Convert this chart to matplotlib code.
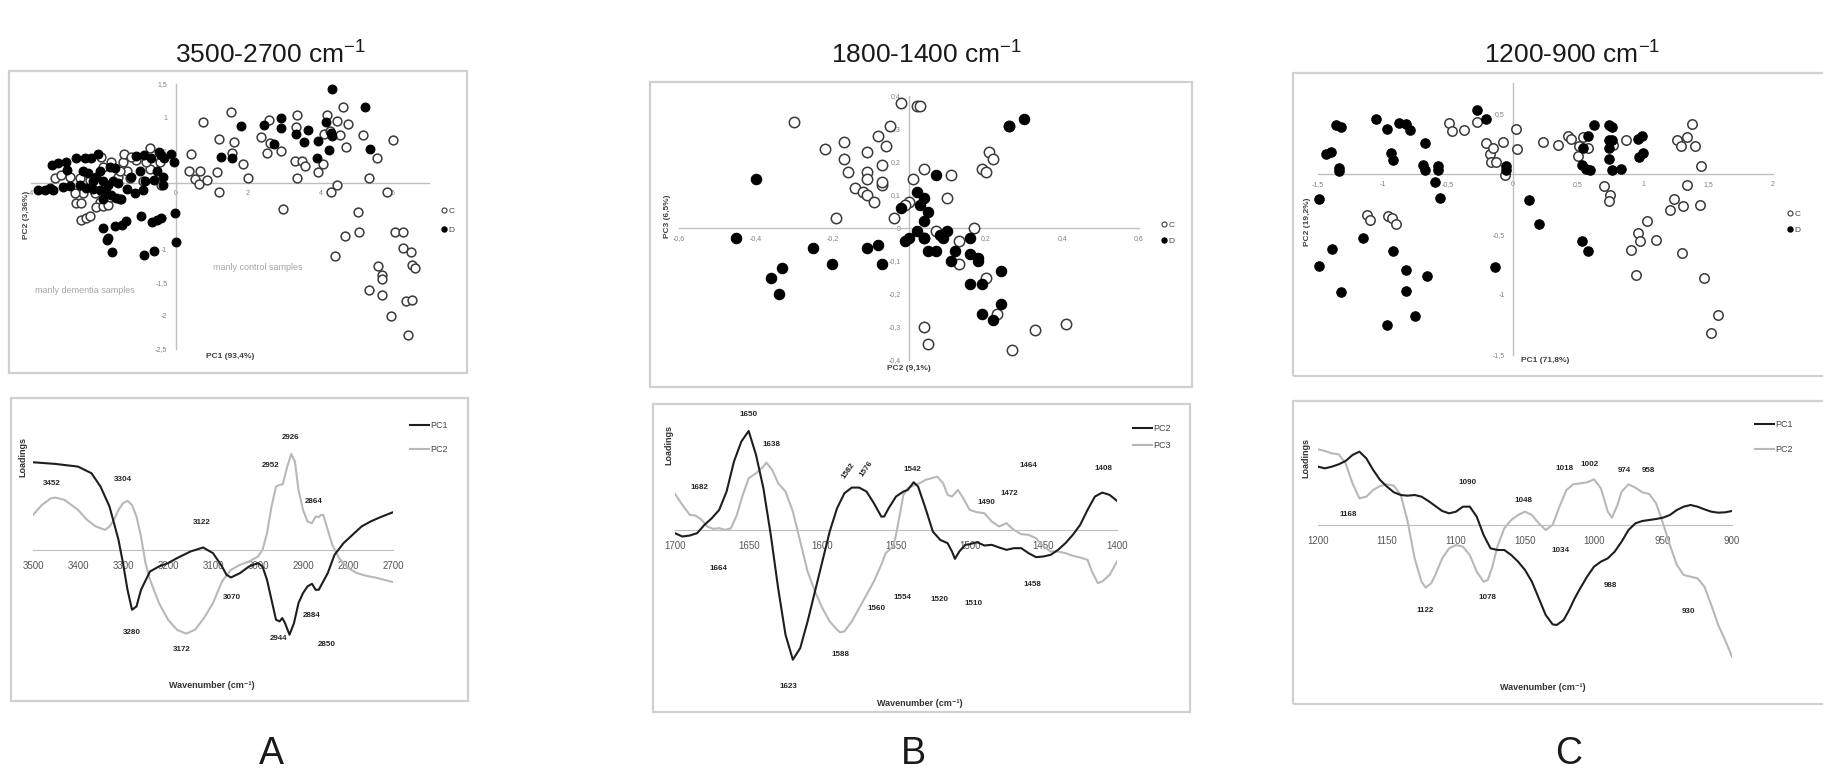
import numpy as np
import matplotlib.pyplot as plt
from matplotlib.patches import Rectangle
from matplotlib.lines import Line2D
from matplotlib.ticker import FuncFormatter

W, H = 1824, 775
plt.rcParams['font.family'] = ['Liberation Sans', 'DejaVu Sans']
plt.rcParams['mathtext.fontset'] = 'custom'
plt.rcParams['mathtext.rm'] = 'Liberation Sans'
plt.rcParams['mathtext.default'] = 'regular'

# ---------------- scores, panel A (PC1 vs PC2) ----------------
a_c_x = [0.41, 0.37, 0.53, 0.66, 0.65, 0.87, 1.14, 1.20, 1.20, 0.74, 1.52, 1.60, 1.56, 1.87, 2.00,
         2.37, 2.58, 2.60, 2.53, 2.90, 2.96, 3.34, 3.32, 3.30, 3.36, 3.49, 3.57, 3.94, 4.06, 4.10,
         4.18, 4.26, 4.29, 4.47, 4.47, 4.55, 4.61, 4.70, 4.75, 5.17, 5.34, 5.56, 5.84, 6.01, 5.04,
         5.06, 4.69, 4.41, 5.58, 5.71, 5.69, 5.35, 5.71, 5.96, 6.07, 6.27, 6.27, 6.49, 6.52, 6.61,
         6.36, 6.53, 6.41,
         -3.35, -3.16, -2.93, -2.65, -2.38, -2.01, -1.78, -1.46, -1.44, -1.36, -1.09, -0.72, -0.70,
         -0.44, -2.06, -2.10, -2.19, -2.01, -1.87, -2.75, -2.61, -2.61, -2.49, -2.36, -2.24, -1.82,
         -2.56, -2.79, -1.59, -0.90, -1.27, -0.40, -1.23, -0.81, -1.55]
a_c_y = [0.44, 0.18, 0.07, 0.19, -0.01, 0.05, 0.17, 0.67, -0.13, 0.93, 1.08, 0.62, 0.46, 0.29, 0.08,
         0.70, 0.96, 0.61, 0.46, 0.49, -0.39, 1.03, 0.85, 0.34, 0.08, 0.34, 0.26, 0.17, 0.29, 0.75,
         1.03, 0.79, -0.13, 0.94, -0.02, 0.73, 1.16, 0.55, 0.89, 0.73, 0.08, 0.38, -0.13, 0.65, -0.43,
         -0.73, -0.79, -1.10, -1.25, -1.38, -1.44, -1.61, -1.69, -2.00, -0.73, -0.73, -0.98, -1.03, -1.23, -1.27,
         -1.78, -1.76, -2.29,
         0.08, 0.13, 0.10, 0.08, 0.05, 0.25, 0.33, 0.33, 0.44, 0.18, 0.35, 0.22, 0.53,
         0.33, 0.40, -0.28, -0.35, -0.34, -0.33, -0.30, -0.29, -0.55, -0.52, -0.49, -0.15, -0.20,
         -0.15, -0.15, 0.10, 0.04, 0.08, -0.03, 0.40, 0.33, 0.18]
a_d_x = [-0.06, -0.03, 0.02, 1.24, 1.56, 1.81, 2.44, 2.71, 2.92, 2.90, 3.32, 3.54, 3.66, 3.94, 3.91,
         4.14, 4.28, 4.33, 4.23, 4.32, 5.22, 5.36,
         -0.46, -0.33, -0.53, -0.60, -0.35, -0.35, -0.67, -0.88, -1.11, -1.00, -1.23, -0.86, -0.90,
         -1.13, -1.36, -1.50, -1.59, -1.73, -1.69, -1.82, -2.10, -2.15, -2.33, -2.52, -2.75, -3.02,
         -3.25, -3.41, -3.00, -2.56, -2.42, -2.19, -3.39, -3.62, -3.81, -3.48, -3.12, -2.93, -2.65,
         -2.47, -2.29, -2.10, -1.92, -1.78, -1.64, -1.55, -2.01, -1.87, -2.01, -2.29, -0.40, -0.12,
         -0.42, -0.53, -0.66, -0.97, -1.38, -1.48, -1.69, -2.01, -1.86, -1.90, -1.76, -0.88, -0.60]
a_d_y = [0.32, -0.45, -0.88, 0.40, 0.39, 0.86, 0.88, 0.59, 0.99, 0.83, 0.75, 0.62, 0.81, 0.64, 0.38,
         0.92, 0.76, 0.72, 0.51, 1.43, 1.15, 0.52,
         0.48, 0.38, 0.18, 0.05, 0.10, -0.03, 0.38, 0.43, 0.41, 0.19, 0.09, 0.03, -0.10,
         -0.14, -0.08, -0.23, 0.00, 0.03, 0.23, 0.24, 0.18, 0.45, 0.38, 0.39, 0.38, 0.33,
         0.31, 0.28, 0.20, 0.18, 0.15, 0.10, -0.10, -0.10, -0.10, -0.07, -0.05, -0.04, -0.03,
         -0.07, -0.08, -0.10, -0.13, -0.18, -0.22, -0.24, -0.23, -0.03, 0.03, 0.03, 0.43, 0.44,
         -0.53, -0.56, -0.59, -0.49, -0.57, -0.63, -0.64, -0.68, -0.83, -0.86, -1.04, -1.08, -1.02]

# ---------------- scores, panel B (PC2 vs PC3) ----------------
b_c_x = [-0.30, -0.17, -0.17, -0.22, -0.16, -0.14, -0.12, -0.11, -0.11, -0.11, -0.11, -0.09, -0.08,
         -0.07, -0.07, -0.07, -0.06, -0.05, -0.02, 0.02, 0.03, 0.04, 0.01, 0.00, -0.04, -0.19, 0.10,
         0.11, 0.19, 0.20, 0.21, 0.22, 0.26, 0.17, 0.13, 0.13, 0.07, 0.04, 0.20, 0.23, 0.04, 0.05,
         0.27, 0.33, 0.41, -0.01]
b_c_y = [0.32, 0.26, 0.21, 0.24, 0.17, 0.12, 0.11, 0.10, 0.23, 0.17, 0.15, 0.08, 0.28, 0.19, 0.13,
         0.14, 0.25, 0.31, 0.38, 0.37, 0.37, 0.18, 0.15, 0.08, 0.03, 0.03, 0.09, 0.16, 0.18, 0.17,
         0.23, 0.21, 0.31, 0.00, -0.04, -0.11, -0.01, -0.03, -0.15, -0.26, -0.30, -0.35, -0.37,
         -0.31, -0.29, 0.07]
b_d_x = [-0.40, -0.45, -0.25, -0.20, -0.36, -0.33, -0.34, -0.11, -0.08, -0.07, -0.02, 0.02, 0.04,
         0.03, 0.05, 0.04, 0.07, 0.00, 0.02, 0.04, 0.05, 0.07, 0.08, 0.09, 0.10, 0.11, 0.12, 0.16,
         0.16, 0.18, 0.18, 0.16, 0.19, 0.24, 0.24, 0.22, 0.19, 0.26, 0.30, -0.01]
b_d_y = [0.15, -0.03, -0.06, -0.11, -0.15, -0.12, -0.20, -0.06, -0.05, -0.11, 0.06, 0.11, 0.09,
         0.07, 0.05, 0.02, 0.16, -0.03, -0.01, -0.03, -0.07, -0.07, -0.02, -0.03, -0.01, -0.10,
         -0.07, -0.03, -0.08, -0.09, -0.10, -0.17, -0.17, -0.13, -0.23, -0.28, -0.26, 0.31, 0.33, -0.04]

# ---------------- scores, panel C (PC1 vs PC2) ----------------
c_c_x = [-0.49, -0.47, -0.38, -0.28, -0.21, -0.18, -0.15, -0.17, -0.13, -0.08, 0.02, 0.03, 0.23,
         0.35, 0.42, 0.45, 0.51, 0.50, 0.54, 0.58, 0.87, 0.77, 1.26, 1.29, 1.34, 1.38, 1.40, 1.45,
         1.34, 1.24, 1.31, 1.44, 1.21, 1.03, 0.96, 0.98, 1.10, 0.91, 1.30, 0.95, 1.47, 1.58, 1.52,
         0.70, 0.75, 0.74, -1.12, -1.10, -0.96, -0.93, -0.90, -0.06]
c_c_y = [0.42, 0.35, 0.36, 0.43, 0.25, 0.16, 0.21, 0.10, 0.10, 0.26, 0.37, 0.20, 0.26, 0.24, 0.31,
         0.29, 0.23, 0.15, 0.30, 0.21, 0.28, 0.24, 0.28, 0.23, 0.30, 0.41, 0.23, 0.06, -0.09, -0.21,
         -0.27, -0.26, -0.30, -0.39, -0.49, -0.56, -0.55, -0.63, -0.66, -0.84, -0.86, -1.17, -1.32,
         -0.10, -0.18, -0.23, -0.34, -0.38, -0.35, -0.37, -0.42, -0.01]
c_d_x = [-1.44, -1.40, -1.36, -1.32, -1.34, -1.34, -1.05, -0.97, -0.88, -0.82, -0.79, -0.94, -0.92,
         -0.68, -0.69, -0.68, -0.58, -0.58, -0.60, -0.56, -0.28, -0.21, -0.05, -0.05, -1.49, -1.39,
         -1.49, -1.32, -1.15, -0.92, -0.82, -0.82, -0.66, -0.75, -0.97, -0.14, 0.12, 0.20, 0.53, 0.58,
         0.58, 0.62, 0.74, 0.76, 0.74, 0.74, 0.76, 0.74, 0.53, 0.56, 0.59, 0.76, 0.83, 0.96, 0.99,
         0.97, 1.00, 0.54]
c_d_y = [0.16, 0.18, 0.40, 0.39, 0.05, 0.02, 0.45, 0.37, 0.42, 0.41, 0.36, 0.17, 0.11, 0.25, 0.07,
         0.03, 0.06, 0.03, -0.07, -0.20, 0.53, 0.45, 0.06, 0.03, -0.21, -0.62, -0.76, -0.98, -0.53,
         -0.64, -0.80, -0.97, -0.85, -1.18, -1.25, -0.77, -0.22, -0.42, -0.56, -0.64, 0.31, 0.40,
         0.40, 0.39, 0.28, 0.21, 0.28, 0.12, 0.07, 0.04, 0.03, 0.03, 0.04, 0.29, 0.31, 0.14, 0.17, 0.21]

# ---------------- loadings, panel A ----------------
a_pc1_wn = [3500, 3450, 3400, 3370, 3350, 3330, 3310, 3300, 3290, 3280, 3270, 3260, 3240, 3220, 3200,
            3180, 3150, 3122, 3100, 3080, 3070, 3060, 3040, 3020, 3000, 2990, 2980, 2970, 2960, 2952,
            2946, 2940, 2930, 2920, 2910, 2900, 2890, 2880, 2872, 2865, 2855, 2845, 2830, 2810, 2790,
            2770, 2750, 2730, 2700]
a_pc1 = [0.263, 0.258, 0.250, 0.230, 0.190, 0.130, 0.030, -0.040, -0.120, -0.180, -0.170, -0.120,
         -0.065, -0.050, -0.040, -0.025, -0.005, 0.007, -0.010, -0.050, -0.075, -0.083, -0.070, -0.050,
         -0.040, -0.050, -0.090, -0.150, -0.210, -0.215, -0.205, -0.220, -0.255, -0.220, -0.160, -0.130,
         -0.110, -0.102, -0.120, -0.120, -0.095, -0.070, -0.015, 0.020, 0.045, 0.070, 0.085, 0.097, 0.113]
a_pc2_wn = [3500, 3480, 3460, 3450, 3430, 3400, 3380, 3360, 3340, 3330, 3320, 3310, 3300, 3290, 3280,
            3270, 3260, 3250, 3240, 3220, 3200, 3180, 3160, 3140, 3120, 3100, 3080, 3060, 3040, 3020,
            3000, 2990, 2980, 2970, 2960, 2952, 2945, 2935, 2926, 2918, 2910, 2900, 2890, 2880, 2872,
            2865, 2860, 2855, 2845, 2835, 2820, 2800, 2780, 2760, 2740, 2700]
a_pc2 = [0.105, 0.135, 0.155, 0.157, 0.150, 0.120, 0.090, 0.070, 0.060, 0.070, 0.090, 0.120, 0.140,
         0.147, 0.135, 0.100, 0.040, -0.040, -0.090, -0.160, -0.210, -0.240, -0.252, -0.240, -0.205,
         -0.160, -0.095, -0.060, -0.045, -0.035, -0.020, 0.000, 0.050, 0.130, 0.190, 0.195, 0.197,
         0.250, 0.288, 0.265, 0.180, 0.120, 0.085, 0.080, 0.100, 0.098, 0.105, 0.105, 0.060, 0.015,
         -0.025, -0.055, -0.070, -0.078, -0.083, -0.097]
a_peaks = ['3452', '3304', '3122', '2952', '2926', '2864', '3280', '3172', '3070', '2944', '2884', '2850']
a_peak_x = [3459, 3300, 3126, 2972, 2928, 2876, 3281, 3170, 3058, 2955, 2881, 2848]
a_peak_y = [0.200, 0.212, 0.083, 0.252, 0.338, 0.145, -0.247, -0.300, -0.142, -0.265, -0.197, -0.285]

# ---------------- loadings, panel B ----------------
b_pc2_wn = [1700, 1695, 1690, 1685, 1680, 1675, 1670, 1665, 1660, 1655, 1650, 1645, 1640, 1635, 1630,
            1625, 1620, 1615, 1610, 1605, 1600, 1595, 1590, 1585, 1580, 1575, 1570, 1565, 1560, 1558,
            1555, 1550, 1545, 1542, 1538, 1535, 1530, 1525, 1520, 1515, 1512, 1510, 1507, 1503, 1500,
            1495, 1490, 1485, 1480, 1475, 1470, 1465, 1460, 1455, 1450, 1445, 1440, 1435, 1430, 1425,
            1420, 1415, 1410, 1405, 1400]
b_pc2 = [-0.010, -0.020, -0.017, -0.010, 0.015, 0.035, 0.060, 0.115, 0.205, 0.265, 0.297, 0.225,
         0.125, -0.015, -0.175, -0.315, -0.390, -0.355, -0.275, -0.185, -0.095, -0.005, 0.065, 0.110,
         0.127, 0.127, 0.115, 0.080, 0.040, 0.040, 0.065, 0.100, 0.115, 0.120, 0.143, 0.130, 0.065,
         -0.005, -0.030, -0.040, -0.065, -0.087, -0.065, -0.045, -0.043, -0.037, -0.047, -0.045,
         -0.053, -0.060, -0.055, -0.055, -0.070, -0.082, -0.080, -0.075, -0.060, -0.040, -0.015,
         0.015, 0.060, 0.100, 0.112, 0.105, 0.087]
b_pc3_wn = [1700, 1695, 1690, 1686, 1682, 1678, 1674, 1670, 1666, 1662, 1658, 1654, 1650, 1645, 1640,
            1638, 1634, 1630, 1625, 1620, 1615, 1610, 1605, 1600, 1595, 1590, 1588, 1585, 1580, 1575,
            1570, 1565, 1560, 1557, 1552, 1550, 1547, 1545, 1542, 1538, 1534, 1530, 1526, 1522, 1518,
            1515, 1512, 1508, 1505, 1500, 1495, 1490, 1485, 1480, 1475, 1470, 1465, 1460, 1455, 1450,
            1445, 1440, 1435, 1430, 1425, 1420, 1417, 1413, 1410, 1405, 1400]
b_pc3 = [0.108, 0.075, 0.045, 0.043, 0.030, 0.010, 0.003, 0.005, 0.000, 0.005, 0.045, 0.105, 0.155,
         0.170, 0.190, 0.202, 0.180, 0.140, 0.115, 0.055, -0.035, -0.125, -0.185, -0.235, -0.275,
         -0.300, -0.308, -0.305, -0.275, -0.235, -0.195, -0.155, -0.105, -0.070, -0.050, -0.015,
         0.055, 0.105, 0.125, 0.133, 0.140, 0.150, 0.155, 0.160, 0.140, 0.105, 0.100, 0.120, 0.100,
         0.060, 0.053, 0.050, 0.025, 0.010, 0.020, 0.000, -0.013, -0.015, -0.025, -0.050, -0.065,
         -0.065, -0.070, -0.078, -0.083, -0.090, -0.125, -0.160, -0.155, -0.135, -0.095]
b_peaks = ['1650', '1638', '1682', '1664', '1542', '1464', '1408', '1490', '1472',
           '1560', '1554', '1520', '1510', '1458', '1588', '1623']
b_peak_x = [1650.2, 1634.8, 1683.7, 1670.8, 1538.8, 1460.5, 1409.1, 1488.3, 1472.9,
            1563.3, 1545.8, 1520.7, 1497.4, 1457.1, 1587.9, 1622.8]
b_peak_y = [0.347, 0.255, 0.128, -0.115, 0.180, 0.193, 0.183, 0.083, 0.108,
            -0.237, -0.203, -0.210, -0.221, -0.165, -0.375, -0.470]
b_tilted = ['1582', '1576']
b_tilted_x = [1582.3, 1570.3]
b_tilted_y = [0.177, 0.183]

# ---------------- loadings, panel C ----------------
c_wn = [1200, 1195, 1190, 1185, 1180, 1175, 1170, 1165, 1160, 1155, 1150, 1145, 1140, 1135, 1130,
        1125, 1120, 1115, 1110, 1105, 1100, 1095, 1090, 1085, 1080, 1075, 1070, 1065, 1060, 1055,
        1050, 1045, 1040, 1035, 1030, 1027, 1022, 1018, 1014, 1010, 1005, 1000, 995, 990, 985, 980,
        975, 970, 965, 960, 955, 950, 945, 940, 935, 930, 925, 920, 915, 910, 905, 900]
c_pc1 = [0.175, 0.170, 0.175, 0.182, 0.192, 0.210, 0.220, 0.200, 0.165, 0.135, 0.115, 0.098, 0.090,
         0.088, 0.090, 0.085, 0.072, 0.057, 0.042, 0.035, 0.040, 0.055, 0.055, 0.025, -0.030, -0.070,
         -0.075, -0.075, -0.090, -0.110, -0.135, -0.170, -0.220, -0.270, -0.298, -0.300, -0.285,
         -0.255, -0.220, -0.190, -0.155, -0.125, -0.110, -0.100, -0.080, -0.050, -0.015, 0.005,
         0.012, 0.015, 0.018, 0.022, 0.030, 0.045, 0.055, 0.060, 0.055, 0.047, 0.040, 0.037, 0.038,
         0.042]
c_pc2_wn = [1200, 1195, 1190, 1185, 1180, 1175, 1170, 1165, 1160, 1155, 1150, 1145, 1140, 1135, 1130,
            1125, 1122, 1118, 1115, 1110, 1105, 1100, 1095, 1090, 1085, 1080, 1077, 1074, 1070, 1065,
            1060, 1055, 1050, 1045, 1040, 1035, 1030, 1025, 1020, 1015, 1010, 1005, 1000, 995, 990,
            987, 983, 980, 975, 970, 965, 960, 955, 950, 945, 940, 935, 930, 925, 920, 915, 910, 905,
            900]
c_pc2 = [0.227, 0.222, 0.215, 0.212, 0.185, 0.125, 0.080, 0.085, 0.105, 0.117, 0.122, 0.118, 0.090,
         0.010, -0.100, -0.170, -0.188, -0.175, -0.150, -0.100, -0.070, -0.060, -0.065, -0.090,
         -0.140, -0.170, -0.165, -0.130, -0.065, -0.010, 0.015, 0.030, 0.040, 0.030, 0.005, -0.015,
         0.000, 0.055, 0.105, 0.122, 0.125, 0.128, 0.137, 0.110, 0.040, 0.022, 0.060, 0.100, 0.122,
         0.112, 0.098, 0.093, 0.065, 0.005, -0.060, -0.120, -0.150, -0.155, -0.160, -0.185, -0.240,
         -0.300, -0.345, -0.395]
c_peaks = ['1168', '1090', '1048', '1018', '1002', '974', '958', '1034', '988', '1122', '1078', '930']
c_peak_x = [1178.3, 1091.8, 1051.0, 1021.7, 1003.1, 977.8, 960.9, 1024.2, 988.2, 1122.2, 1077.0, 931.6]
c_peak_y = [0.030, 0.127, 0.075, 0.170, 0.182, 0.165, 0.162, -0.077, -0.182, -0.258, -0.218, -0.260]

titles = ['3500-2700 cm$^{-1}$', '1800-1400 cm$^{-1}$', '1200-900 cm$^{-1}$']
letters = ['A', 'B', 'C']

fig = plt.figure(figsize=(W / 100, H / 100), dpi=100)
AXIS_GREY = '#bfbfbf'


def px_axes(l, t, r, b):
    ax = fig.add_axes([l / W, 1 - b / H, (r - l) / W, (b - t) / H])
    ax.patch.set_alpha(0)
    return ax


def frame(l, t, r, b):
    fig.patches.append(Rectangle((l / W, 1 - b / H), (r - l) / W, (b - t) / H,
                                 transform=fig.transFigure, fill=False,
                                 ec='#d0d0d0', lw=1.6, zorder=0))


def ftext(x, y, s, **kw):
    fig.text(x / W, 1 - y / H, s, ha='center', va='center', **kw)


comma = FuncFormatter(lambda v, p: ('%g' % v).replace('.', ','))


def scores_panel(box, xlim, ylim, xt, yt, cx, cy, dx, dy, size, leg_xy, leg_sp):
    ax = px_axes(*box)
    ax.set_xlim(xlim)
    ax.set_ylim(ylim)
    for s in ['top', 'right']:
        ax.spines[s].set_visible(False)
    for s in ['left', 'bottom']:
        ax.spines[s].set_position(('data', 0))
        ax.spines[s].set_color(AXIS_GREY)
        ax.spines[s].set_linewidth(1.0)
    ax.set_xticks(xt)
    ax.set_yticks(yt)
    ax.xaxis.set_major_formatter(comma)
    ax.yaxis.set_major_formatter(comma)
    ax.tick_params(length=0, labelsize=5, labelcolor='#808080')
    ax.tick_params(axis='x', pad=5)
    ax.tick_params(axis='y', pad=6)
    ax.scatter(cx, cy, s=size, facecolor='white', edgecolor='#3a3a3a', linewidth=1.1,
               zorder=3, clip_on=False)
    ax.scatter(dx, dy, s=size, facecolor='black', edgecolor='black', linewidth=0.8,
               zorder=3, clip_on=False)
    handles = [Line2D([], [], ls='none', marker='o', ms=3.6, mfc='white', mec='#3a3a3a', mew=0.8),
               Line2D([], [], ls='none', marker='o', ms=3.6, mfc='black', mec='black')]
    ax.legend(handles, ['C', 'D'], loc='upper left', bbox_to_anchor=(leg_xy[0] / W, 1 - leg_xy[1] / H),
              bbox_transform=fig.transFigure, frameon=False, fontsize=6, handlelength=0.6,
              handletextpad=0.2, labelspacing=leg_sp, borderpad=0, borderaxespad=0,
              labelcolor='#444444')
    return ax


def loadings_panel(box, xlim, ylim, step, wn1, v1, wn2, v2, names, peaks, px, py, leg_xy, leg_sp):
    ax = px_axes(*box)
    ax.set_xlim(xlim)
    ax.set_ylim(ylim)
    for s in ['top', 'right', 'left']:
        ax.spines[s].set_visible(False)
    ax.spines['bottom'].set_position(('data', 0))
    ax.spines['bottom'].set_color(AXIS_GREY)
    ax.set_yticks([])
    ax.set_xticks(np.arange(xlim[1], xlim[0] + 1, step))
    ax.tick_params(axis='x', length=0, pad=8, labelsize=7, labelcolor='#555555')
    ax.plot(wn1, v1, color='#1e1e1e', lw=1.5, label=names[0], zorder=3)
    ax.plot(wn2, v2, color='#b8b8b8', lw=1.5, label=names[1], zorder=2)
    for t, x, y in zip(peaks, px, py):
        ax.text(x, y, t, ha='center', va='center', fontsize=5.8, fontweight='bold',
                color='#262626', clip_on=False)
    ax.legend(loc='upper left', bbox_to_anchor=(leg_xy[0] / W, 1 - leg_xy[1] / H),
              bbox_transform=fig.transFigure, frameon=False, fontsize=6.5, handlelength=2.1,
              handletextpad=0.1, labelspacing=leg_sp, borderpad=0, borderaxespad=0,
              labelcolor='#444444')
    return ax


# ---- frames ----
frame(9, 71, 467, 373)
frame(650, 82, 1192, 387)
frame(1293, 73, 1830, 376)
frame(11, 398, 468, 701)
frame(653, 404, 1190, 712)
frame(1293, 401, 1830, 704)

# ---- scores ----
scores_panel((31, 84, 429, 349), (-4, 7), (-2.5, 1.5), [-4, -2, 0, 2, 4, 6],
             [-2.5, -2, -1.5, -1, -0.5, 0.5, 1, 1.5], a_c_x, a_c_y, a_d_x, a_d_y, 40,
             (442, 207), 1.3)
ftext(230, 356, 'PC1 (93,4%)', fontsize=6, fontweight='bold', color='#404040')
ftext(27, 215, 'PC2 (3,36%)', fontsize=6, fontweight='bold', color='#404040', rotation=90)
ftext(85, 290, 'manly dementia samples', fontsize=6.5, color='#a6a6a6')
ftext(258, 267, 'manly control samples', fontsize=6.5, color='#a6a6a6')

scores_panel((679, 96, 1139, 360), (-0.6, 0.6), (-0.4, 0.4), [-0.6, -0.4, -0.2, 0.2, 0.4, 0.6],
             [-0.4, -0.3, -0.2, -0.1, 0, 0.1, 0.2, 0.3, 0.4], b_c_x, b_c_y, b_d_x, b_d_y, 56,
             (1162, 221), 1.05)
ftext(909, 368, 'PC2 (9,1%)', fontsize=6, fontweight='bold', color='#404040')
ftext(668, 216, 'PC3 (6,5%)', fontsize=6, fontweight='bold', color='#404040', rotation=90)

scores_panel((1318, 83, 1773, 355), (-1.5, 2), (-1.5, 0.75), [-1.5, -1, -0.5, 0, 0.5, 1, 1.5, 2],
             [-1.5, -1, -0.5, 0.5], c_c_x, c_c_y, c_d_x, c_d_y, 46,
             (1788, 210), 0.95)
ftext(1545, 361, 'PC1 (71,8%)', fontsize=6, fontweight='bold', color='#404040')
ftext(1308, 222, 'PC2 (19,2%)', fontsize=6, fontweight='bold', color='#404040', rotation=90)

# ---- loadings ----
loadings_panel((33, 410, 393, 673), (3500, 2700), (-0.37, 0.42), 100, a_pc1_wn, a_pc1, a_pc2_wn,
               a_pc2, ['PC1', 'PC2'], a_peaks, a_peak_x, a_peak_y, (410, 421), 1.7)
ftext(23, 457, 'Loadings', fontsize=6.5, fontweight='bold', color='#333333', rotation=90)
ftext(212, 686, 'Wavenumber (cm⁻¹)', fontsize=6.5, fontweight='bold', color='#333333')

axb = loadings_panel((675, 415, 1117, 688), (1700, 1400), (-0.475, 0.345), 50, b_pc2_wn, b_pc2,
                     b_pc3_wn, b_pc3, ['PC2', 'PC3'], b_peaks, b_peak_x, b_peak_y, (1133, 424), 0.9)
for t, x, y in zip(b_tilted, b_tilted_x, b_tilted_y):
    axb.text(x, y, t, ha='center', va='center', fontsize=5.8, fontweight='bold',
             color='#262626', rotation=55)
ftext(669, 445, 'Loadings', fontsize=6.5, fontweight='bold', color='#333333', rotation=90)
ftext(920, 704, 'Wavenumber (cm⁻¹)', fontsize=6.5, fontweight='bold', color='#333333')

loadings_panel((1318, 415, 1732, 675), (1200, 900), (-0.45, 0.33), 50, c_wn, c_pc1, c_pc2_wn, c_pc2,
               ['PC1', 'PC2'], c_peaks, c_peak_x, c_peak_y, (1755, 420), 1.8)
ftext(1306, 458, 'Loadings', fontsize=6.5, fontweight='bold', color='#333333', rotation=90)
ftext(1543, 687, 'Wavenumber (cm⁻¹)', fontsize=6.5, fontweight='bold', color='#333333')

# ---- titles and panel letters ----
for t, x in zip(titles, [271, 927, 1572]):
    ftext(x, 55, t, fontsize=19, color='#1a1a1a')
for t, x in zip(letters, [271, 913, 1569]):
    ftext(x, 754, t, fontsize=27, color='#1a1a1a')

fig.savefig('out.png', dpi=100, facecolor='white')
